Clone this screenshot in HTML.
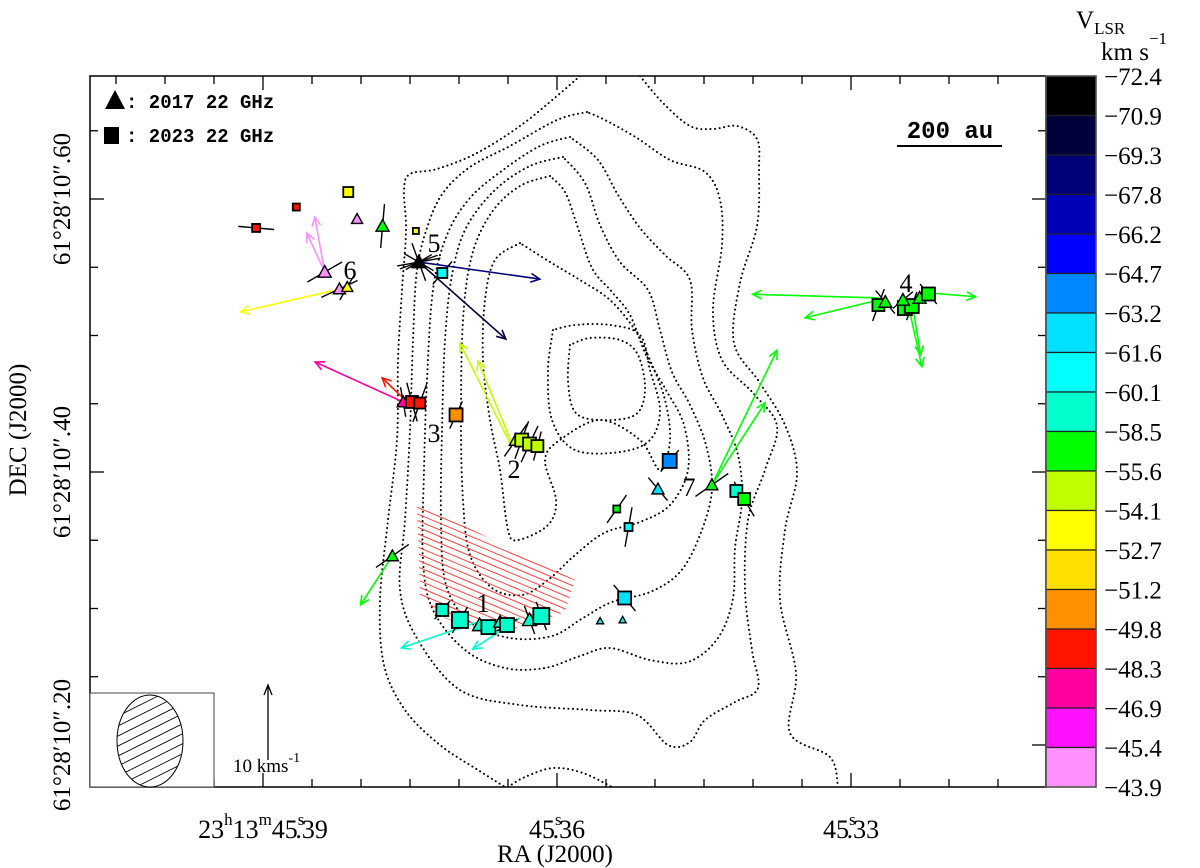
<!DOCTYPE html>
<html><head><meta charset="utf-8"><style>
html,body{margin:0;padding:0;background:#fff;}
svg{display:block;}
text{font-family:"Liberation Serif","DejaVu Serif",serif;fill:#000;}
.mono{font-family:"Liberation Mono","DejaVu Sans Mono",monospace;font-weight:bold;}
</style></head><body>
<svg id="chart" width="1200" height="868" viewBox="0 0 1200 868" xmlns="http://www.w3.org/2000/svg">
<rect x="0" y="0" width="1200" height="868" fill="#fff"/>
<defs><clipPath id="plotclip"><rect x="90" y="76" width="956" height="711"/></clipPath>
<clipPath id="hatchclip"><polygon points="417,505 432,510 575,580 565,612 520,628 480,632 445,618 420,596"/></clipPath>
<clipPath id="beamclip"><ellipse cx="150" cy="741" rx="33" ry="46"/></clipPath></defs>
<g id="contours" clip-path="url(#plotclip)" fill="none" stroke="#000" stroke-width="2" stroke-dasharray="0.1 4.5" stroke-linecap="round"></g>
<g id="hatch" clip-path="url(#hatchclip)" stroke="#ff4040" stroke-width="1"></g>
<g id="arrows" clip-path="url(#plotclip)"></g>
<g id="evpa" clip-path="url(#plotclip)" stroke="#000" stroke-width="1.4"></g>
<g id="markers" clip-path="url(#plotclip)"></g>
<g id="axes"></g>
<g font-size="26">
<text x="483" y="612" text-anchor="middle">1</text>
<text x="514" y="478" text-anchor="middle">2</text>
<text x="434" y="442" text-anchor="middle">3</text>
<text x="906" y="292" text-anchor="middle">4</text>
<text x="434" y="252" text-anchor="middle">5</text>
<text x="350" y="279" text-anchor="middle">6</text>
<text x="689" y="496" text-anchor="middle">7</text>
</g>
<g>
<polygon points="105,109 125,109 115,90" fill="#000"/>
<text class="mono" x="126" y="108" font-size="19">: 2017 22 GHz</text>
<rect x="104" y="127" width="15" height="17" fill="#000"/>
<text class="mono" x="126" y="142" font-size="19">: 2023 22 GHz</text>
</g>
<g>
<text class="mono" x="950" y="138" font-size="24" text-anchor="middle">200 au</text>
<line x1="897" y1="146" x2="1002" y2="146" stroke="#000" stroke-width="2"/>
</g>
<g>
<rect x="90" y="693" width="124" height="94" fill="#fff" stroke="#444" stroke-width="1"/>
<g id="beamhatch" clip-path="url(#beamclip)" stroke="#000" stroke-width="0.8"></g>
<ellipse cx="150" cy="741" rx="33" ry="46" fill="none" stroke="#000" stroke-width="1"/>
</g>
<g>
<line x1="268" y1="760" x2="268" y2="687" stroke="#000" stroke-width="1.3"/>
<polyline points="264,695 268,685 272,695" fill="none" stroke="#000" stroke-width="1.3"/>
<text x="233" y="772" font-size="19">10 kms<tspan dy="-10" font-size="14">-1</tspan></text>
</g>
<g id="colorbar"></g>
<g>
<text x="1076" y="28" font-size="25">V<tspan dy="6" font-size="17">LSR</tspan></text>
<text x="1101" y="60" font-size="25">km s<tspan dy="-16" font-size="17">−1</tspan></text>
</g>
<text x="555" y="862" font-size="25" text-anchor="middle">RA (J2000)</text>
<text transform="translate(26,430) rotate(-90)" font-size="25" text-anchor="middle">DEC (J2000)</text>
</svg>
<script>
// ---- data ----
const vBinEdges = [-72.4,-70.9,-69.3,-67.8,-66.2,-64.7,-63.2,-61.6,-60.1,-58.5,-55.6,-54.1,-52.7,-51.2,-49.8,-48.3,-46.9,-45.4,-43.9];
const vBinColors = ["#000000","#00003a","#000078","#0000b8","#0000ff","#0088ff","#00e0ff","#00ffff","#00ffcc","#00ff00","#c0ff00","#ffff00","#ffe000","#ff9000","#ff1400","#ff00a0","#ff10ff","#ff90ff"];
// spot offsets: RA in ms of time from 45.36s, Dec in mas from 10.40"
const spotRa  = [30.7,26.6,21.3,20.4,17.8,14.4,14.1,11.7,23.7,22.2,21.4,15.7,14.8,14.0,10.3,4.2,3.6,2.8,2.0,-11.5,-10.3,-15.8,-18.3,-19.1,-6.1,-7.3,16.8,-6.9,-4.4,-6.7,11.7,9.9,7.9,7.0,5.8,5.1,2.8,1.6,-32.8,-33.5,-35.5,-36.2,-35.3,-37.0,-37.9];
const spotDec = [178.8,194.1,205.1,185.3,180.2,176.6,153.8,145.8,146.5,134.1,135.5,51.3,51.3,50.5,41.8,23.4,23.4,20.5,19.0,8.1,-12.5,-9.5,-13.9,-19.8,-27.1,-40.3,-61.5,-92.3,-109.2,-108.4,-101.1,-108.4,-112.1,-113.6,-109.9,-112.1,-108.4,-105.5,122.3,124.5,120.1,121.6,126.0,127.5,130.4];
const spotVel = [-49,-49,-54,-44.6,-57,-54,-71.5,-61,-44.6,-44.6,-54,-47.6,-49,-49,-50.5,-55.2,-55.2,-55.2,-55.2,-64,-62.4,-57,-59.3,-57,-57,-61,-57,-62.4,-61,-61,-59.3,-59.3,-59.3,-59.3,-59.3,-59.3,-59.3,-59.3,-57,-57,-57,-57,-57,-57,-57];
const spotEpoch = ["s","s","s","t","t","s","t","s","t","t","t","t","s","s","s","t","s","s","s","s","t","t","s","s","s","s","t","s","t","t","s","s","t","s","t","s","t","s","s","t","s","s","t","t","s"];
const spotSize = [8,7,10,11,13,6,14,10,13,12,11,12,12,11,13,13,13,13,12,14,12,12,12,12,7,8,12,13,7,7,12,16,14,14,13,14,14,16,12,13,14,14,13,13,13];
const evpaAngle = [85,0,0,0,-5,0,20,-40,-60,-65,-30,10,15,-20,-25,-35,-20,-25,-15,-40,40,-55,0,30,-35,-10,-55,40,0,0,-40,-30,0,90,0,-60,20,20,-20,40,0,-20,-50,0,40];
const evpaLen = [36,0,0,0,44,0,40,30,40,40,30,30,40,40,30,40,40,40,30,28,30,40,0,40,34,40,40,34,0,0,24,30,0,30,0,24,30,30,34,30,0,30,26,0,26];
// arrows: start offsets (ms, mas) and velocities (km/s east, north)
const arrRa  = [23.7,23.7,22.1,14.1,14.1,15.7,15.5,4.8,4.6,-15.8,-15.8,16.8,8.1,3.8,-32.8,-32.8,-38.1,-35.8,-36.2];
const arrDec = [146.5,146.5,134.1,153.8,153.8,51.3,52.7,21.2,21.2,-9.5,-9.5,-61.5,-109.9,-107.0,127.5,126.0,131.1,123.8,126.0];
const arrVE  = [1.35,2.43,13.5,-16.35,-11.76,11.9,3.1,6.76,4.6,-8.8,-7.2,4.3,10.3,6.35,17.0,9.9,-6.1,-1.9,-1.2];
const arrVN  = [7.43,5.27,-3.1,-2.3,-10.4,5.4,3.0,13.5,11.1,18.2,11.1,-6.6,-3.5,-4.2,0.5,-2.4,-0.5,-8.6,-7.4];
const arrVel = [-44.6,-44.6,-54,-68.5,-70.1,-47.6,-49,-55.2,-55.2,-57,-57,-57,-59.3,-59.3,-57,-57,-57,-57,-57];
const xMajorLabels = ["39","36","33"];
const yMajorLabels = ["61°28′10″.60","61°28′10″.40","61°28′10″.20"];

// ---- axis functions ----
const X0=557, PX_PER_MS=9.8, Y0=472, PX_PER_MAS=1.365, PX_PER_KMS=7.4;
const xS = ra => X0 - ra*PX_PER_MS;
const yS = dec => Y0 - dec*PX_PER_MAS;
const colorOf = v => { let i=0; while(i<vBinColors.length-1 && v>vBinEdges[i+1]) i++; return vBinColors[i]; };
const NS="http://www.w3.org/2000/svg";
function mk(tag, attrs, parent){ const e=document.createElementNS(NS,tag); for(const k in attrs) e.setAttribute(k,attrs[k]); parent.appendChild(e); return e; }

// ---- contours (background image, pixel traced) ----
const contourPaths = [
 [[580,76],[557,96],[520,126],[477,153],[437,169],[410,174],[404,190],[406,230],[402,290],[398,360],[397,440],[388,520],[380,600],[384,665],[405,710],[440,745],[478,770],[505,787]],
 [[640,76],[663,103],[690,126],[713,129],[737,126],[757,139],[759,170],[757,226],[740,283],[734,343],[760,383],[785,425],[797,473],[785,530],[780,600],[796,673],[790,733],[830,757],[838,787]],
 [[508,787],[525,777],[553,768],[583,773],[612,787]],
 [[587,112],[557,120],[510,146],[470,167],[443,193],[428,225],[417,270],[413,340],[410,430],[405,520],[400,590],[418,640],[460,690],[520,705],[590,710],[637,715],[668,745],[690,742],[705,720],[735,702],[758,688],[752,650],[745,590],[748,520],[765,470],[777,426],[753,393],[722,360],[713,310],[722,245],[720,200],[705,172],[670,160],[637,138],[605,120],[587,112]],
 [[570,137],[540,146],[503,170],[470,198],[447,235],[433,290],[427,380],[424,470],[423,560],[433,610],[465,650],[505,668],[545,668],[580,656],[610,648],[650,660],[688,662],[718,638],[733,598],[735,548],[742,500],[738,455],[722,415],[703,378],[692,330],[690,280],[665,255],[640,228],[618,195],[598,160],[570,137]],
 [[563,157],[530,166],[495,190],[466,228],[452,275],[445,340],[442,430],[441,520],[446,585],[470,622],[510,638],[552,636],[583,618],[612,602],[650,592],[680,572],[700,535],[712,490],[706,445],[690,405],[672,372],[660,330],[648,290],[620,262],[600,225],[585,183],[563,157]],
 [[550,176],[520,186],[492,212],[472,255],[463,320],[461,420],[463,500],[470,555],[492,588],[522,595],[548,580],[574,556],[604,533],[640,522],[670,505],[688,470],[684,425],[666,390],[646,355],[630,315],[612,292],[592,268],[577,225],[565,192],[550,176]],
 [[520,243],[495,260],[485,300],[483,360],[490,420],[500,470],[508,530],[518,540],[548,525],[556,500],[545,460],[560,440],[600,420],[640,440],[660,470],[670,440],[665,400],[650,360],[635,330],[610,300],[580,280],[550,262],[520,243]],
 [[553,330],[548,370],[552,420],[575,450],[620,452],[650,440],[660,410],[650,370],[640,335],[610,325],[575,325],[553,330]],
 [[570,345],[568,380],[575,412],[600,420],[635,415],[645,390],[638,355],[620,340],[590,338],[570,345]]
];
function smooth(p){ let d="M"+p[0][0]+","+p[0][1];
 for(let i=0;i<p.length-1;i++){ const p0=p[Math.max(0,i-1)],p1=p[i],p2=p[i+1],p3=p[Math.min(p.length-1,i+2)];
  d+=" C"+(p1[0]+(p2[0]-p0[0])/6).toFixed(1)+","+(p1[1]+(p2[1]-p0[1])/6).toFixed(1)+" "+(p2[0]-(p3[0]-p1[0])/6).toFixed(1)+","+(p2[1]-(p3[1]-p1[1])/6).toFixed(1)+" "+p2[0]+","+p2[1]; }
 return d; }
const cg=document.getElementById('contours');
contourPaths.forEach(p=>{ const e=mk('path',{d:smooth(p)},cg);
 
  });

// hatch
const hg=document.getElementById('hatch');
for(let k=-10;k<30;k++){ const e=mk('line',{x1:400,y1:500+k*6.6,x2:600,y2:500+k*6.6+84},hg);
 
  }
const bh=document.getElementById('beamhatch');
for(let k=-8;k<12;k++){ const e=mk('line',{x1:110,y1:700+k*10+20,x2:190,y2:700+k*10-20},bh);
 
  }

// arrows
const ag=document.getElementById('arrows');
arrRa.forEach((ra,i)=>{
 const x1=xS(ra), y1=yS(arrDec[i]);
 const x2=x1-arrVE[i]*PX_PER_KMS, y2=y1-arrVN[i]*PX_PER_KMS;
 const c=colorOf(arrVel[i]); const a=Math.atan2(y2-y1,x2-x1), h=10, w=0.45;
 const g=mk('g',{stroke:c,'stroke-width':1.6,fill:'none'},ag);
 
 
 mk('line',{x1:x1,y1:y1,x2:x2,y2:y2},g);
 mk('polyline',{points:(x2-h*Math.cos(a-w))+","+(y2-h*Math.sin(a-w))+" "+x2+","+y2+" "+(x2-h*Math.cos(a+w))+","+(y2-h*Math.sin(a+w))},g);
});

// evpa segments
const eg=document.getElementById('evpa');
spotRa.forEach((ra,i)=>{ if(!evpaLen[i]) return;
 const x=xS(ra), y=yS(spotDec[i]), r=evpaAngle[i]*Math.PI/180, L=evpaLen[i]/2;
 const e=mk('line',{x1:x-L*Math.sin(r),y1:y-L*Math.cos(r),x2:x+L*Math.sin(r),y2:y+L*Math.cos(r)},eg);
 
 
});
[[-70,40],[-80,44],[60,34],[-60,30]].forEach(s=>{
 const x=xS(spotRa[6]), y=yS(spotDec[6]), r=s[0]*Math.PI/180, L=s[1]/2;
 const e=mk('line',{x1:x-L*Math.sin(r),y1:y-L*Math.cos(r),x2:x+L*Math.sin(r),y2:y+L*Math.cos(r)},eg);
 
 
});

// markers
const mg=document.getElementById('markers');
spotRa.forEach((ra,i)=>{
 const x=xS(ra), y=yS(spotDec[i]), s=spotSize[i], c=colorOf(spotVel[i]);
 let e;
 if(spotEpoch[i]==="s"){
  e=mk('rect',{x:x-s/2,y:y-s/2,width:s,height:s,fill:c,stroke:'#000','stroke-width':1.8},mg);
 } else {
  e=mk('polygon',{points:(x-s/2)+","+(y+s*0.4)+" "+(x+s/2)+","+(y+s*0.4)+" "+x+","+(y-s*0.5),fill:c,stroke:'#000','stroke-width':1.4},mg);
 }
 
 
});

// axes
const ax=document.getElementById('axes');
mk('rect',{x:90,y:76,width:956,height:711,fill:'none',stroke:'#000','stroke-width':1.5},ax);
const xMajorRa=[30,0,-30];
for(let ms=45; ms>=-45; ms-=5){ const x=xS(ms); if(x<92||x>1044) continue;
 const major = xMajorRa.includes(ms); const L=major?14:8;
 mk('line',{x1:x,y1:787,x2:x,y2:787-L,stroke:'#000','stroke-width':1.3},ax);
 mk('line',{x1:x,y1:76,x2:x,y2:76+L,stroke:'#000','stroke-width':1.3},ax);
}
xMajorRa.forEach((ms,i)=>{ const x=xS(ms);
 const t=mk('text',{x:x,y:838,'font-size':26,'text-anchor':'middle'},ax);
 
 
 const pre = i===0 ? '23<tspan dy="-13" font-size="17">h</tspan><tspan dy="13">13</tspan><tspan dy="-13" font-size="17">m</tspan><tspan dy="13">45</tspan>' : '45';
 t.innerHTML = pre+'<tspan dy="-13" font-size="17">s</tspan><tspan dy="13" dx="-9">.</tspan><tspan>'+xMajorLabels[i]+'</tspan>';
});
const yMajorDec=[200,0,-200];
for(let mas=250; mas>=-350; mas-=50){ const y=yS(mas); if(y<78||y>785) continue;
 const major=yMajorDec.includes(mas); const L=major?14:8;
 mk('line',{x1:90,y1:y,x2:90+L,y2:y,stroke:'#000','stroke-width':1.3},ax);
 mk('line',{x1:1046,y1:y,x2:1046-L,y2:y,stroke:'#000','stroke-width':1.3},ax);
}
yMajorDec.forEach((mas,i)=>{ const y=yS(mas);
 const t=mk('text',{transform:"translate(70,"+y+") rotate(-90)",'font-size':25,'text-anchor':'middle'},ax);
 
 
 t.textContent=yMajorLabels[i];
});

// colorbar
const cb=document.getElementById('colorbar');
const cbTop=76, cbH=711/vBinColors.length;
vBinColors.forEach((c,i)=>{
 const r=mk('rect',{x:1046,y:cbTop+i*cbH,width:50,height:cbH,fill:c,stroke:'#222','stroke-width':1.2},cb);
 
 
});
mk('rect',{x:1046,y:76,width:50,height:711,fill:'none',stroke:'#555','stroke-width':1.5},cb);
vBinEdges.forEach((v,i)=>{
 const t=mk('text',{x:1104,y:cbTop+i*cbH+9,'font-size':25},cb);
 
 
 t.textContent='−'+Math.abs(v).toFixed(1);
});
</script>
</body></html>
